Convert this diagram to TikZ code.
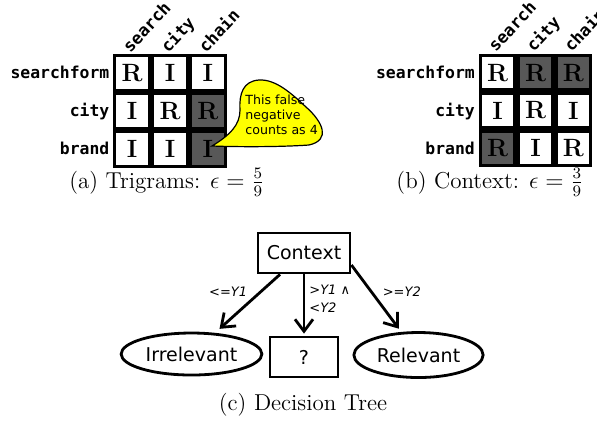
\documentclass[tikz,border=0pt]{standalone}
\usepackage{fontspec}
\usepackage{amsmath}
\usetikzlibrary{matrix,
	calc,
	positioning,
	shapes,
	arrows.meta}
\newfontfamily\monolbl{DejaVu Sans Mono}
\newfontfamily\sanslbl{DejaVu Sans}
\definecolor{cellgray}{HTML}{585858}
\definecolor{noteyellow}{HTML}{FFFF00}
\tikzstyle{cmat}=[ampersand replacement=\&, column sep=0pt, row sep=0pt, inner sep=0pt]
\tikzstyle{wc}=[draw, line width=1.6pt, minimum size=17.35pt, inner sep=0pt, outer sep=0pt,
		font=\fontsize{12.5}{14}\selectfont\bfseries]
\tikzstyle{dc}=[wc, fill=cellgray]
\tikzstyle{rl}=[font=\monolbl\bfseries\fontsize{8.2}{10}\selectfont, inner sep=0pt,
		text height=1.6ex, text depth=.3ex]
\tikzstyle{cl}=[font=\monolbl\bfseries\fontsize{8.4}{10}\selectfont, inner sep=0pt,
		rotate=47, anchor=base west]
\tikzstyle{co}=[draw, line width=0.6pt, fill=noteyellow]
\tikzstyle{nt}=[font=\sanslbl\fontsize{6.3}{7.6}\selectfont, inner sep=0pt, align=left]
\tikzstyle{tn}=[draw, line width=1.4pt, font=\sanslbl\fontsize{9.5}{11}\selectfont,
		minimum width=46pt, minimum height=20pt, inner sep=2pt]
\tikzstyle{tl}=[tn, ellipse]
\tikzstyle{ed}=[line width=1.4pt, -{Straight Barb[length=6pt,width=9pt]}]
\tikzstyle{el}=[font=\sanslbl\itshape\fontsize{6.5}{9}\selectfont, inner sep=0pt]
\tikzstyle{subcap}=[font=\fontsize{11.5}{14}\selectfont, anchor=base, inner sep=0pt]

\begin{document}
\begin{tikzpicture}[x=0.5pt, y=-0.5pt]
\useasboundingbox (0,0) rectangle (597,420);
% (a) trigrams
\matrix[cmat] (trig) at (170,111) {
	\node[wc] (a11) {R}; \& \node[wc] (a12) {I}; \& \node[wc] (a13) {I}; \\
	\node[wc] (a21) {I}; \& \node[wc] (a22) {R}; \& \node[dc] (a23) {R}; \\
	\node[wc] (a31) {I}; \& \node[wc] (a32) {I}; \& \node[dc] (a33) {I}; \\
};
\node[rl, left=2.5pt of a11] (ar1) {searchform};
\node[rl, left=2.5pt of a21] (ar2) {city};
\node[rl, left=2.5pt of a31] (ar3) {brand};
\node[cl] (ac1) at ([xshift=-1pt, yshift=1pt]a11.north) {search};
\node[cl] (ac2) at ([xshift=-1pt, yshift=1pt]a12.north) {city};
\node[cl] (ac3) at ([xshift=-1pt, yshift=1pt]a13.north) {chain};
% callout
\draw[co] (212,146) .. controls (230,135) and (240,125) .. (240,110)
	.. controls (239,94) and (243,81) .. (259,80)
	.. controls (276,79) and (292,94) .. (306,107)
	.. controls (323,122) and (331,140) .. (309,145)
	.. controls (280,147) and (240,147) .. (212,146) -- cycle;
\node[nt, anchor=west] (note) at (245,115) {This false\\negative\\counts as 4};
\node[subcap] (capa) at (167,188) {(a) Trigrams: $\epsilon = \frac{5}{9}$};

% (b) context
\matrix[cmat] (ctxm) at (535.5,110.5) {
	\node[wc] (b11) {R}; \& \node[dc] (b12) {R}; \& \node[dc] (b13) {R}; \\
	\node[wc] (b21) {I}; \& \node[wc] (b22) {R}; \& \node[wc] (b23) {I}; \\
	\node[dc] (b31) {R}; \& \node[wc] (b32) {I}; \& \node[wc] (b33) {R}; \\
};
\node[rl, left=2.5pt of b11] (br1) {searchform};
\node[rl, left=2.5pt of b21] (br2) {city};
\node[rl, left=2.5pt of b31] (br3) {brand};
\node[cl] (bc1) at ([xshift=-1pt, yshift=1pt]b11.north) {search};
\node[cl] (bc2) at ([xshift=-1pt, yshift=1pt]b12.north) {city};
\node[cl] (bc3) at ([xshift=-1pt, yshift=1pt]b13.north) {chain};
\node[subcap] (capb) at (490,188) {(b) Context: $\epsilon = \frac{3}{9}$};

% (c) decision tree
\node[tn] (ctx) at (304,253) {Context};
\node[tl, minimum width=66.5pt, minimum height=21pt] (irr) at (191.5,354) {Irrelevant};
\node[tn, minimum width=34pt] (unk) at (304,357) {?};
\node[tl, minimum width=63.5pt, minimum height=22.5pt] (rel) at (418.5,355) {Relevant};
\draw[ed, shorten >=3pt] ([xshift=-12pt]ctx.south) -- (irr)
	node[el, pos=0.3, left=6pt] (lirr) {<=Y1};
\draw[ed, shorten >=1pt] (ctx) -- (unk)
	node[el, pos=0.4, right=2pt, align=left] (lunk) {>Y1 ∧\\<Y2};
\draw[ed, shorten >=2pt] ([yshift=-6pt]ctx.east) -- (rel)
	node[el, pos=0.4, right=5pt] (lrel) {>=Y2};
\node[subcap] (capc) at (303,410) {(c) Decision Tree};
\end{tikzpicture}
\end{document}
